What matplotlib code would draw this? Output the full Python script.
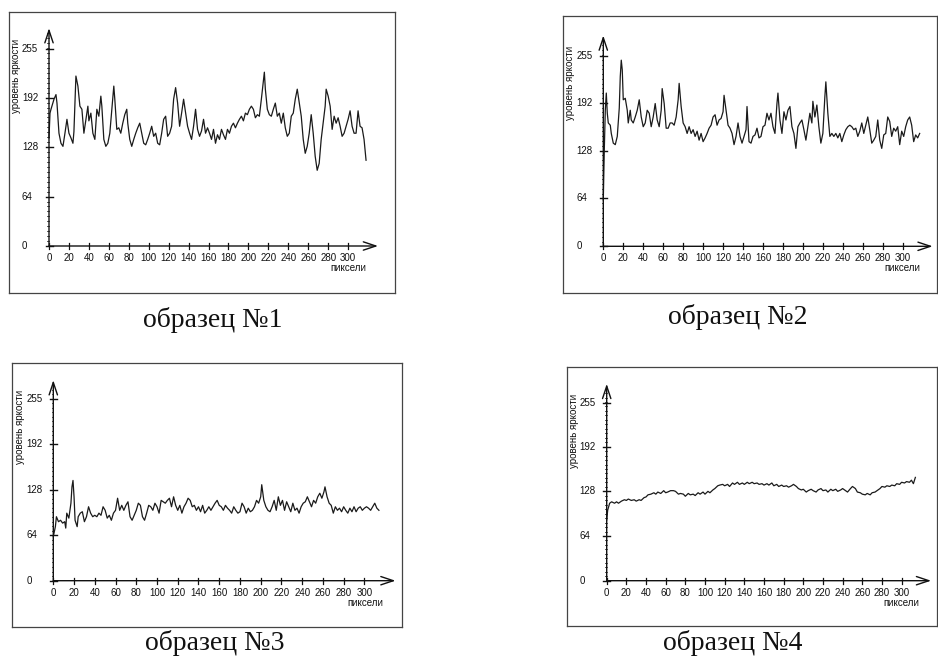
import matplotlib
matplotlib.use('Agg')
import matplotlib.pyplot as plt

W, H = 938, 659

# axis values shared by all four plots
yticks = [0, 64, 128, 192, 255]
xticks = list(range(0, 301, 20))
captions = ['образец №1', 'образец №2', 'образец №3', 'образец №4']

# sample 1
s1_x = [0, 1, 2, 5, 7, 8, 10, 12, 14, 16, 18, 20, 22, 24, 25, 26, 27, 29, 31, 33, 35, 37, 39, 40,
        42, 44, 46, 48, 50, 52, 53, 55, 57, 59, 61, 63, 65, 66, 68, 70, 72, 74, 76, 78, 79, 81,
        83, 85, 87, 89, 91, 93, 95, 97, 99, 101, 103, 105, 107, 109, 111, 113, 115, 117, 119,
        121, 123, 125, 127, 129, 131, 133, 135, 137, 139, 141, 143, 145, 147, 149, 151, 153,
        155, 157, 159, 161, 163, 165, 167, 169, 171, 173, 175, 177, 179, 181, 183, 185, 187,
        189, 191, 193, 195, 197, 199, 201, 203, 205, 207, 209, 211, 213, 215, 216, 217, 219,
        221, 223, 225, 227, 229, 231, 233, 235, 237, 239, 241, 243, 245, 247, 249, 251, 253,
        255, 257, 259, 261, 263, 265, 267, 269, 271, 273, 275, 277, 278, 280, 282, 284, 286,
        288, 290, 292, 294, 296, 298, 300, 302, 304, 306, 308, 310, 312, 314, 316, 318]
s1_y = [140, 172, 177, 190, 196, 185, 146, 133, 129, 146, 164, 146, 140, 133, 148, 185, 220, 207,
        181, 177, 146, 164, 181, 162, 172, 146, 138, 177, 168, 194, 181, 138, 129, 133, 146,
        177, 207, 190, 151, 153, 146, 159, 170, 177, 159, 138, 129, 138, 146, 153, 159, 146,
        133, 131, 138, 146, 155, 142, 146, 133, 131, 146, 164, 168, 142, 146, 155, 190, 205,
        185, 155, 172, 190, 172, 155, 146, 138, 155, 177, 151, 142, 149, 164, 146, 153, 146,
        138, 151, 133, 144, 138, 151, 144, 138, 151, 146, 155, 159, 153, 159, 164, 168, 162,
        172, 170, 177, 181, 177, 166, 170, 168, 190, 214, 225, 203, 177, 170, 168, 177, 185,
        168, 172, 159, 172, 153, 142, 146, 168, 172, 190, 203, 185, 168, 138, 120, 129, 146,
        170, 146, 116, 98, 107, 138, 159, 181, 203, 194, 181, 151, 168, 159, 166, 155, 142,
        146, 155, 164, 175, 155, 146, 146, 175, 155, 153, 138, 111]

# sample 2
s2_x = [0, 1, 2, 3, 4, 5, 7, 8, 10, 12, 14, 16, 17, 18, 19, 20, 22, 24, 25, 27, 28, 30, 32, 34,
        36, 38, 40, 42, 44, 46, 48, 50, 52, 54, 56, 58, 59, 61, 63, 65, 67, 69, 71, 73, 75, 76,
        78, 80, 82, 84, 86, 88, 90, 92, 94, 96, 98, 100, 102, 104, 106, 108, 110, 112, 114,
        116, 118, 120, 121, 123, 125, 127, 129, 131, 133, 135, 137, 139, 141, 143, 144, 146,
        148, 150, 152, 154, 156, 158, 160, 162, 164, 166, 168, 170, 172, 174, 175, 177, 179,
        181, 183, 185, 187, 189, 191, 193, 195, 197, 199, 201, 203, 205, 207, 209, 210, 212,
        214, 216, 218, 220, 222, 223, 225, 227, 229, 231, 233, 235, 237, 239, 241, 243, 245,
        247, 249, 251, 253, 255, 257, 259, 261, 263, 265, 267, 269, 271, 273, 275, 277, 279,
        281, 283, 285, 287, 289, 291, 293, 295, 297, 299, 301, 303, 305, 307, 309, 311, 313,
        315, 317]
s2_y = [62, 129, 182, 205, 178, 165, 162, 151, 138, 136, 147, 185, 227, 249, 236, 196, 198, 182,
        165, 182, 169, 165, 173, 182, 196, 173, 160, 165, 182, 178, 160, 173, 191, 169, 160,
        182, 211, 191, 158, 158, 165, 165, 162, 173, 196, 218, 187, 165, 160, 151, 160, 151,
        156, 147, 154, 142, 151, 140, 145, 151, 158, 162, 173, 176, 162, 169, 171, 180, 202,
        182, 162, 158, 151, 136, 147, 165, 147, 138, 147, 156, 187, 140, 138, 147, 149, 158,
        145, 147, 160, 162, 178, 169, 178, 160, 151, 191, 205, 169, 151, 180, 169, 182, 187,
        160, 151, 131, 160, 165, 169, 156, 142, 160, 178, 165, 194, 173, 189, 160, 138, 151,
        200, 220, 178, 147, 151, 147, 151, 145, 151, 140, 149, 156, 160, 162, 160, 156, 158,
        147, 154, 165, 151, 162, 173, 156, 138, 142, 147, 169, 142, 131, 149, 151, 173, 167,
        147, 158, 154, 160, 136, 154, 147, 160, 169, 173, 162, 140, 149, 145, 151]

# sample 3
s3_x = [0, 1, 2, 3, 5, 7, 9, 11, 12, 13, 15, 17, 18, 19, 20, 21, 23, 24, 26, 28, 30, 32, 34, 36,
        38, 40, 42, 44, 46, 48, 50, 52, 54, 56, 58, 60, 62, 64, 66, 68, 70, 72, 74, 76, 78, 80,
        82, 84, 86, 88, 90, 92, 94, 96, 98, 100, 102, 104, 106, 108, 110, 112, 114, 116, 118,
        120, 122, 124, 126, 128, 130, 132, 134, 136, 138, 140, 142, 144, 146, 148, 150, 152,
        154, 156, 158, 160, 162, 164, 166, 168, 170, 172, 174, 176, 178, 180, 182, 184, 186,
        188, 190, 192, 194, 196, 198, 200, 201, 203, 205, 207, 209, 211, 213, 215, 217, 219,
        221, 223, 225, 227, 229, 231, 233, 235, 237, 239, 241, 243, 245, 247, 249, 251, 253,
        255, 257, 259, 261, 262, 264, 266, 268, 270, 272, 274, 276, 278, 280, 282, 284, 286,
        288, 290, 292, 294, 296, 298, 300, 302, 304, 306, 308, 310, 312, 314]
s3_y = [62, 69, 76, 90, 83, 85, 81, 83, 74, 95, 88, 109, 132, 141, 118, 85, 76, 90, 95, 97, 83,
        90, 104, 95, 90, 92, 90, 95, 92, 104, 99, 88, 92, 85, 95, 99, 116, 99, 106, 99, 106,
        111, 90, 85, 92, 99, 109, 106, 90, 85, 95, 106, 104, 99, 109, 104, 95, 113, 111, 109,
        113, 116, 104, 118, 106, 99, 106, 95, 104, 109, 116, 113, 104, 106, 99, 104, 97, 106,
        95, 99, 104, 99, 104, 109, 113, 106, 104, 99, 106, 102, 99, 95, 104, 99, 95, 97, 109,
        104, 95, 102, 97, 99, 104, 113, 109, 118, 135, 113, 104, 99, 97, 104, 113, 99, 118,
        106, 113, 99, 111, 104, 97, 109, 99, 102, 95, 104, 109, 111, 118, 111, 104, 113, 109,
        118, 123, 116, 125, 132, 118, 109, 106, 95, 104, 99, 102, 97, 104, 99, 95, 102, 97, 104,
        97, 102, 104, 99, 102, 104, 102, 99, 104, 109, 102, 99]

# sample 4
s4_x = [0, 1, 2, 3, 5, 8, 10, 12, 15, 18, 20, 22, 25, 28, 30, 33, 35, 38, 40, 42, 45, 48, 50,
        52, 55, 58, 60, 62, 65, 68, 70, 73, 75, 78, 80, 83, 85, 88, 90, 93, 95, 98, 100, 103,
        105, 108, 110, 113, 115, 118, 120, 123, 125, 128, 130, 133, 135, 138, 140, 143, 145,
        148, 150, 153, 155, 158, 160, 163, 165, 168, 170, 173, 175, 178, 180, 183, 185, 188,
        190, 193, 195, 198, 200, 203, 205, 208, 210, 213, 215, 218, 220, 223, 225, 228, 230,
        233, 235, 238, 240, 243, 245, 248, 250, 253, 255, 258, 260, 263, 265, 268, 270, 273,
        275, 278, 280, 283, 285, 288, 290, 293, 295, 298, 300, 303, 305, 308, 310, 312, 314]
s4_y = [87, 101, 106, 111, 113, 111, 113, 111, 114, 116, 115, 117, 115, 116, 114, 116, 115, 119,
        120, 123, 124, 126, 124, 127, 125, 129, 126, 127, 129, 129, 128, 124, 125, 124, 121,
        125, 123, 124, 122, 126, 124, 127, 124, 128, 126, 130, 132, 136, 137, 138, 136, 138,
        135, 140, 138, 141, 138, 140, 138, 141, 139, 141, 139, 140, 138, 139, 137, 139, 137,
        140, 136, 138, 135, 137, 135, 136, 134, 136, 138, 135, 132, 130, 131, 127, 129, 131,
        129, 127, 130, 132, 129, 130, 127, 131, 129, 131, 128, 130, 132, 129, 127, 132, 135,
        132, 127, 126, 124, 123, 125, 123, 126, 127, 129, 132, 135, 134, 136, 135, 137, 136,
        139, 138, 141, 140, 142, 141, 144, 139, 148]

# pixel layout: frame box (l, t, r, b), origin of the axes, px per unit, caption centre
panels = [
    dict(box=(9, 12, 395, 293), origin=(49, 246), scale=(0.997, 0.7725),
         xs=s1_x, ys=s1_y, cap=(213, 320)),
    dict(box=(563, 16, 937, 293), origin=(603.3, 246.3), scale=(0.998, 0.7475),
         xs=s2_x, ys=s2_y, cap=(738, 317)),
    dict(box=(12, 363, 402, 627), origin=(53.3, 580.7), scale=(1.037, 0.711),
         xs=s3_x, ys=s3_y, cap=(215, 643)),
    dict(box=(567, 367, 937, 626), origin=(606.7, 580.7), scale=(0.983, 0.698),
         xs=s4_x, ys=s4_y, cap=(733, 643)),
]

fig = plt.figure(figsize=(W / 100, H / 100), dpi=100)
fig.patch.set_facecolor('white')

small = dict(family='Liberation Sans', fontsize=7, color='#111')

for p, cap in zip(panels, captions):
    l, t, r, b = p['box']
    ox, oy = p['origin']
    sx, sy = p['scale']
    ax = fig.add_axes([l / W, 1 - b / H, (r - l) / W, (b - t) / H])
    ax.set_xlim((l - ox) / sx, (r - ox) / sx)
    ax.set_ylim((oy - b) / sy, (oy - t) / sy)
    ax.set_xticks([])
    ax.set_yticks([])
    for sp in ax.spines.values():
        sp.set_color('#444')
        sp.set_linewidth(0.9)

    arrow = dict(arrowstyle='->,head_length=0.9,head_width=0.3', color='#111', lw=1.0,
                 shrinkA=0, shrinkB=0)
    ax.annotate('', xy=(330, 0), xytext=(0, 0), arrowprops=arrow)
    ax.annotate('', xy=(0, 282), xytext=(0, 0), arrowprops=arrow)

    # minor ticks on the y axis
    v = 0.0
    while v < 276:
        ax.plot([-1.8 / sx, 0], [v, v], color='#333', lw=0.6)
        v += 6.4
    for yt in yticks:
        ax.plot([-3.5 / sx, 3.5 / sx], [yt, yt], color='#111', lw=1.0)
        ax.text(-27 / sx, yt, str(yt), ha='left', va='center', **small)
    for xt in xticks:
        ax.plot([xt, xt], [-3 / sy, 3 / sy], color='#111', lw=0.9)
        ax.text(xt, -12 / sy, str(xt), ha='center', va='center', **small)

    ax.text(318, -22 / sy, 'пиксели', ha='right', va='center', **small)
    ax.text(-33 / sx, 268, 'уровень яркости', rotation=90, ha='center', va='top', **small)

    ax.plot(p['xs'], p['ys'], color='#1a1a1a', lw=0.9)

    cx, cy = p['cap']
    fig.text(cx / W, 1 - cy / H, cap, ha='center', va='center',
             family='Liberation Serif', fontsize=20, color='#111')

fig.savefig('out.png', dpi=100, facecolor='white')
